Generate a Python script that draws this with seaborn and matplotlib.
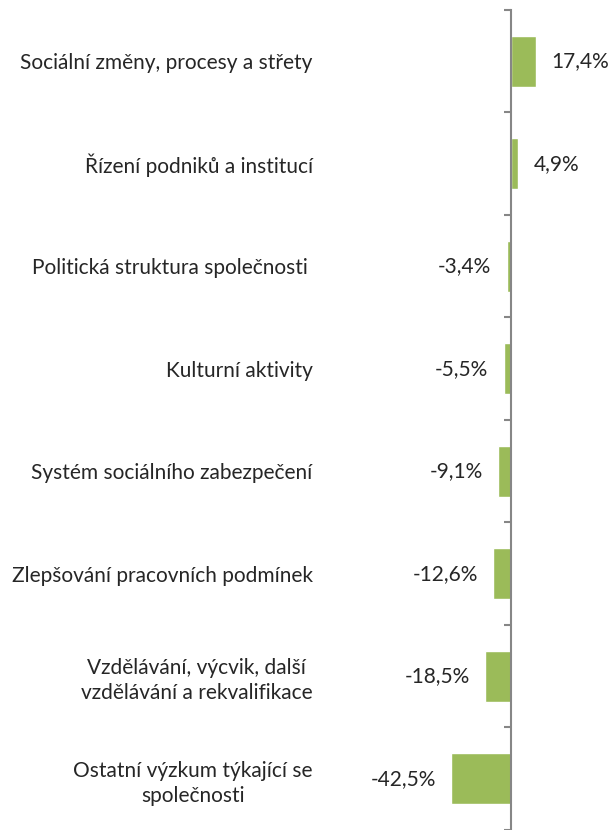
import pandas as pd
import seaborn as sns
import matplotlib.pyplot as plt

categories = [
    "Sociální změny, procesy a střety",
    "Řízení podniků a institucí",
    "Politická struktura společnosti ",
    "Kulturní aktivity",
    "Systém sociálního zabezpečení",
    "Zlepšování pracovních podmínek",
    "Vzdělávání, výcvik, další\nvzdělávání a rekvalifikace",
    "Ostatní výzkum týkající se\nspolečnosti",
]
values = [17.4, 4.9, -3.4, -5.5, -9.1, -12.6, -18.5, -42.5]
value_labels = ["17,4%", "4,9%", "-3,4%", "-5,5%", "-9,1%", "-12,6%", "-18,5%", "-42,5%"]

df = pd.DataFrame({"category": categories, "value": values})

sns.set_style("white")
plt.rcParams["font.family"] = ["Lato", "DejaVu Sans"]

fig = plt.figure(figsize=(6.1, 8.3), dpi=100)
ax = fig.add_axes([0.525, 0.0, 0.467, 0.988])

sns.barplot(data=df, x="value", y="category", orient="h", color="#9BBB59",
            width=0.5, saturation=1, ax=ax)

ax.set_xlim(-134.5, 66)
ax.set_ylim(len(categories) - 0.5, -0.5)

# axis line at zero
for s in ["top", "right", "bottom"]:
    ax.spines[s].set_visible(False)
ax.spines["left"].set_position(("data", 0))
ax.spines["left"].set_color("#868686")
ax.spines["left"].set_linewidth(1.5)

ax.set_xticks([])
ax.set_yticks(range(len(categories)))
ax.set_yticklabels(categories, fontsize=15, multialignment="center", linespacing=1.3)
ax.tick_params(axis="y", which="major", left=True, length=0, pad=143)
ax.set_yticks([i - 0.5 for i in range(len(categories) + 1)], minor=True)
ax.tick_params(axis="y", which="minor", left=True, length=5, width=1.5,
               color="#868686", direction="out")

for i, (v, lab) in enumerate(zip(values, value_labels)):
    off = 11 if v >= 0 else -11
    ax.annotate(lab, (v, i), xytext=(off, 0), textcoords="offset points",
                ha="left" if v >= 0 else "right", va="center", fontsize=15)

ax.set_xlabel("")
ax.set_ylabel("")
fig.savefig("out.png", dpi=100)
